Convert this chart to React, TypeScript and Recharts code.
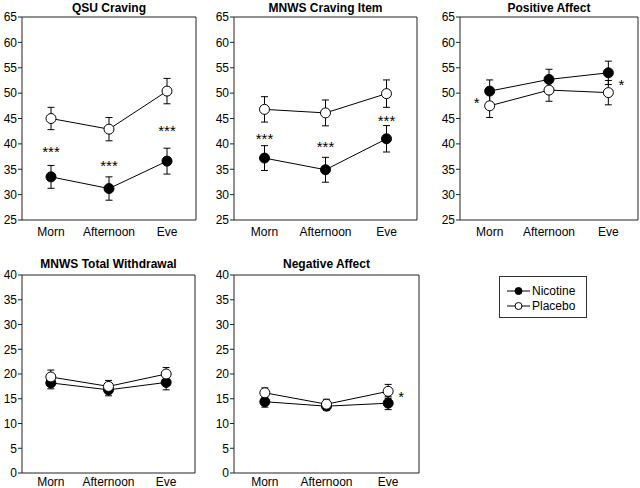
import React from "react";
import { ErrorBar, Line, LineChart, ReferenceDot, ReferenceLine, XAxis, YAxis } from "recharts";

const categories = ["Morn", "Afternoon", "Eve"];

const upperTicks = [25, 30, 35, 40, 45, 50, 55, 60, 65];
const lowerTicks = [0, 5, 10, 15, 20, 25, 30, 35, 40];

// QSU Craving
const qsuNicotine = [33.5, 31.2, 36.6];
const qsuNicotineSe = [2.25, 2.3, 2.55];
const qsuPlacebo = [45.0, 42.9, 50.4];
const qsuPlaceboSe = [2.2, 2.3, 2.5];

// MNWS Craving Item
const craveNicotine = [37.2, 34.9, 41.0];
const craveNicotineSe = [2.45, 2.45, 2.6];
const cravePlacebo = [46.8, 46.1, 49.9];
const cravePlaceboSe = [2.5, 2.55, 2.7];

// Positive Affect
const posNicotine = [50.4, 52.7, 54.0];
const posNicotineSe = [2.2, 2.0, 2.3];
const posPlacebo = [47.5, 50.6, 50.1];
const posPlaceboSe = [2.3, 2.2, 2.4];

// MNWS Total Withdrawal
const withdrawalNicotine = [18.2, 16.8, 18.3];
const withdrawalNicotineSe = [1.2, 1.2, 1.5];
const withdrawalPlacebo = [19.4, 17.5, 20.0];
const withdrawalPlaceboSe = [1.4, 1.2, 1.3];

// Negative Affect
const negNicotine = [14.4, 13.5, 14.1];
const negNicotineSe = [1.1, 0.8, 1.3];
const negPlacebo = [16.2, 13.9, 16.5];
const negPlaceboSe = [1.0, 1.0, 1.4];

type Star = { x: number; y: number; text: string };

const qsuStars: Star[] = [
  { x: 0, y: 39.1, text: "***" },
  { x: 1, y: 36.3, text: "***" },
  { x: 2, y: 43.2, text: "***" },
];
const craveStars: Star[] = [
  { x: 0, y: 41.7, text: "***" },
  { x: 1, y: 40.0, text: "***" },
  { x: 2, y: 45.2, text: "***" },
];
const posStars: Star[] = [
  { x: -0.22, y: 48.8, text: "*" },
  { x: 2.22, y: 52.3, text: "*" },
];
const negStars: Star[] = [{ x: 2.21, y: 16.1, text: "*" }];

const FONT = "'Liberation Sans', Arial, sans-serif";
const AXIS = "#222";

interface PanelProps {
  title: string;
  nicotine: number[];
  nicotineSe: number[];
  placebo: number[];
  placeboSe: number[];
  ticks: number[];
  stars: Star[];
  box: { x0: number; x1: number; y0: number; y1: number };
  titleTop: number;
  labelGap: number;
}

const blackDot = { r: 5, fill: "#000", stroke: "#000", strokeWidth: 1 };
const whiteDot = { r: 5, fill: "#fff", stroke: "#000", strokeWidth: 1 };

function Panel({ title, nicotine, nicotineSe, placebo, placeboSe, ticks, stars, box, titleTop, labelGap }: PanelProps) {
  const data = categories.map((name, i) => ({
    i,
    name,
    nic: nicotine[i],
    nicSe: nicotineSe[i],
    pla: placebo[i],
    plaSe: placeboSe[i],
  }));
  const domain: [number, number] = [ticks[0], ticks[ticks.length - 1]];
  const width = box.x1 - box.x0 + 22 + 4;
  const height = box.y1 - box.y0 + 17 + 22;

  return (
    <>
      <div
        style={{
          position: "absolute",
          left: box.x0,
          width: box.x1 - box.x0,
          top: titleTop,
          textAlign: "center",
          fontWeight: "bold",
          fontSize: 12,
          lineHeight: "12px",
          whiteSpace: "nowrap",
        }}
      >
        {title}
      </div>
      <div style={{ position: "absolute", left: box.x0 - 22, top: box.y0 - 17 }}>
        <LineChart width={width} height={height} data={data} margin={{ top: 17, right: 4, left: 0, bottom: 2 }}>
          <XAxis
            dataKey="i"
            type="number"
            domain={[-0.5, 2.5]}
            ticks={[0, 1, 2]}
            interval={0}
            tickFormatter={(v) => categories[v] ?? ""}
            tickLine={false}
            axisLine={{ stroke: AXIS }}
            tick={{ fill: "#000", fontSize: 12 }}
            height={20}
            tickSize={4}
            tickMargin={labelGap}
            allowDataOverflow
          />
          <YAxis
            type="number"
            domain={domain}
            ticks={ticks}
            interval={0}
            width={22}
            tickSize={4}
            tickMargin={1}
            axisLine={{ stroke: AXIS }}
            tickLine={{ stroke: AXIS }}
            tick={{ fill: "#000", fontSize: 12 }}
            allowDataOverflow
          />
          <ReferenceLine y={domain[1]} stroke={AXIS} />
          <ReferenceLine x={2.5} stroke={AXIS} />
          <Line dataKey="nic" type="linear" stroke="#000" strokeWidth={1} dot={false} isAnimationActive={false}>
            <ErrorBar dataKey="nicSe" width={3.5} stroke="#000" strokeWidth={1} />
          </Line>
          <Line dataKey="pla" type="linear" stroke="#000" strokeWidth={1} dot={false} isAnimationActive={false}>
            <ErrorBar dataKey="plaSe" width={3.5} stroke="#000" strokeWidth={1} />
          </Line>
          {/* markers drawn after the whiskers so the open circles stay clean */}
          <Line dataKey="nic" stroke="none" dot={blackDot} activeDot={false} isAnimationActive={false} />
          <Line dataKey="pla" stroke="none" dot={whiteDot} activeDot={false} isAnimationActive={false} />
          {stars.map((s, k) => (
            <ReferenceDot
              key={k}
              x={s.x}
              y={s.y}
              r={0}
              shape={(p: any) => (
                <text x={p.cx} y={p.cy} dy={8.5} textAnchor="middle" fontSize={15} fill="#000">
                  {s.text}
                </text>
              )}
            />
          ))}
        </LineChart>
      </div>
    </>
  );
}

function LegendRow({ label, filled }: { label: string; filled: boolean }) {
  return (
    <div style={{ display: "flex", alignItems: "center", height: 15 }}>
      <svg width={30} height={10} style={{ marginLeft: 6 }}>
        <line x1={1} y1={5} x2={24} y2={5} stroke="#000" />
        <circle cx={12.5} cy={5} r={3.5} fill={filled ? "#000" : "#fff"} stroke="#000" />
      </svg>
      <span style={{ fontSize: 12, lineHeight: "12px", marginLeft: -4 }}>{label}</span>
    </div>
  );
}

export default function App() {
  return (
    <div
      style={{
        position: "absolute",
        left: 0,
        top: 0,
        width: 640,
        height: 488,
        background: "#fff",
        fontFamily: FONT,
        color: "#000",
      }}
    >
      <Panel
        title="QSU Craving"
        nicotine={qsuNicotine}
        nicotineSe={qsuNicotineSe}
        placebo={qsuPlacebo}
        placeboSe={qsuPlaceboSe}
        ticks={upperTicks}
        stars={qsuStars}
        box={{ x0: 22, x1: 196, y0: 17, y1: 220 }}
        titleTop={2}
        labelGap={3}
      />
      <Panel
        title="MNWS Craving Item"
        nicotine={craveNicotine}
        nicotineSe={craveNicotineSe}
        placebo={cravePlacebo}
        placeboSe={cravePlaceboSe}
        ticks={upperTicks}
        stars={craveStars}
        box={{ x0: 234, x1: 417, y0: 17, y1: 220 }}
        titleTop={2}
        labelGap={3}
      />
      <Panel
        title="Positive Affect"
        nicotine={posNicotine}
        nicotineSe={posNicotineSe}
        placebo={posPlacebo}
        placeboSe={posPlaceboSe}
        ticks={upperTicks}
        stars={posStars}
        box={{ x0: 460, x1: 638, y0: 17, y1: 220 }}
        titleTop={2}
        labelGap={3}
      />
      <Panel
        title="MNWS Total Withdrawal"
        nicotine={withdrawalNicotine}
        nicotineSe={withdrawalNicotineSe}
        placebo={withdrawalPlacebo}
        placeboSe={withdrawalPlaceboSe}
        ticks={lowerTicks}
        stars={[]}
        box={{ x0: 22, x1: 195, y0: 275, y1: 473 }}
        titleTop={258}
        labelGap={0}
      />
      <Panel
        title="Negative Affect"
        nicotine={negNicotine}
        nicotineSe={negNicotineSe}
        placebo={negPlacebo}
        placeboSe={negPlaceboSe}
        ticks={lowerTicks}
        stars={negStars}
        box={{ x0: 234, x1: 419, y0: 275, y1: 473 }}
        titleTop={258}
        labelGap={0}
      />
      <div
        style={{
          position: "absolute",
          left: 499,
          top: 276,
          width: 88,
          height: 42,
          border: "1px solid #333",
          paddingTop: 6,
          boxSizing: "border-box",
        }}
      >
        <LegendRow label="Nicotine" filled />
        <LegendRow label="Placebo" filled={false} />
      </div>
    </div>
  );
}
